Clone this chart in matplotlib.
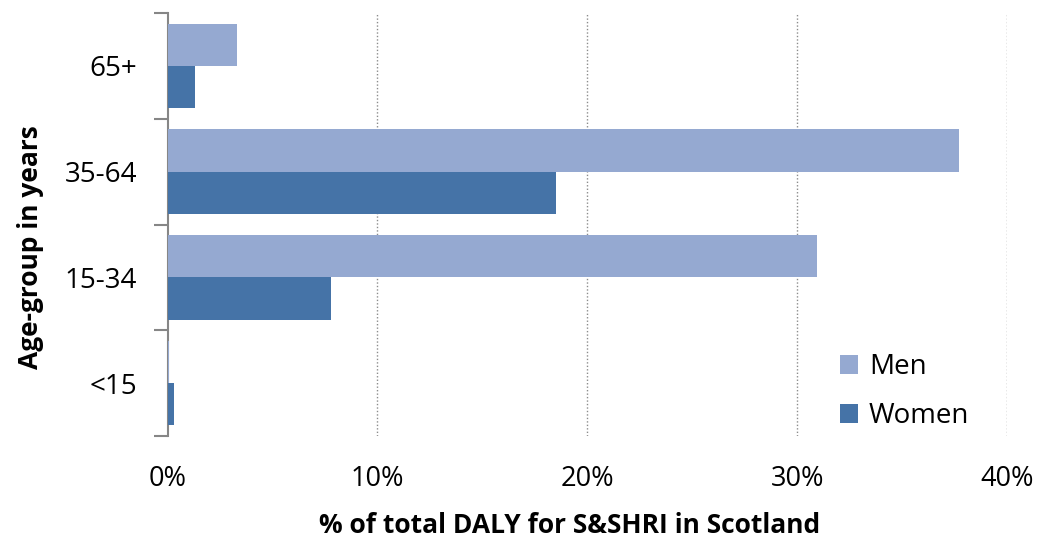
import matplotlib
matplotlib.use("Agg")
import matplotlib.pyplot as plt
import numpy as np
from matplotlib.ticker import FixedLocator, PercentFormatter

categories = ["<15", "15-34", "35-64", "65+"]
men = [0.05, 30.95, 37.7, 3.3]
women = [0.3, 7.8, 18.5, 1.28]
xticks = [0, 10, 20, 30, 40]

plt.rcParams['font.family'] = ['Open Sans', 'DejaVu Sans']

fig = plt.figure(figsize=(10.37, 5.41), dpi=100)
ax = fig.add_axes([0.1617, 0.194, 0.8093, 0.782])

y = np.arange(len(categories))
h = 0.4
c_men = "#95A9D1"
c_women = "#4573A7"
ax.barh(y + h/2, men, height=h, color=c_men, label="Men", zorder=3)
ax.barh(y - h/2, women, height=h, color=c_women, label="Women", zorder=3)

ax.set_xlim(0, 40)
ax.set_ylim(-0.5, len(categories) - 0.5)
ax.set_xticks(xticks)
ax.xaxis.set_major_formatter(PercentFormatter(decimals=0))
ax.tick_params(axis='x', length=0, labelsize=19.5, pad=21)
for gx in xticks[1:]:
    ax.axvline(gx, color="#8c8c8c", linestyle=(0, (1, 1.5)), linewidth=1, zorder=1)

ax.set_yticks(y)
ax.set_yticklabels(categories)
ax.tick_params(axis='y', which='major', length=0, labelsize=20, pad=22)
ax.yaxis.set_minor_locator(FixedLocator(np.arange(-0.5, len(categories), 1)))
ax.tick_params(axis='y', which='minor', length=10, color="#868686", width=1.5)

for s in ["top", "right", "bottom"]:
    ax.spines[s].set_visible(False)
ax.spines["left"].set_color("#868686")
ax.spines["left"].set_linewidth(1.5)

ax.set_xlabel("% of total DALY for S&SHRI in Scotland", fontsize=19, fontweight="bold")
ax.xaxis.set_label_coords(0.479, -0.18)
ax.set_ylabel("Age-group in years", fontsize=19, fontweight="bold")
ax.yaxis.set_label_coords(-0.147, 0.447)

leg = ax.legend(loc="lower right", bbox_to_anchor=(0.985, -0.045), frameon=False, fontsize=20,
                handlelength=0.65, handleheight=0.65, labelspacing=0.75, handletextpad=0.4)

fig.savefig("out.png", dpi=100)
